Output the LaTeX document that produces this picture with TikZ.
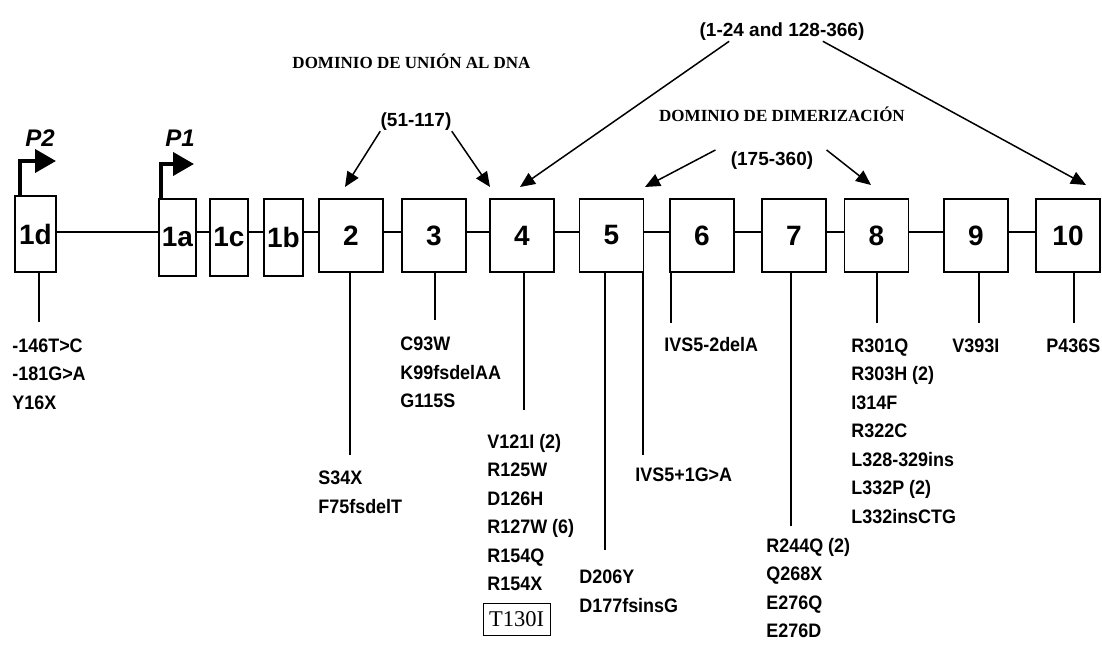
\documentclass[tikz,border=0pt]{standalone}
\usepackage{fontspec}
\setmainfont{Liberation Serif}
\setsansfont{Liberation Sans}
\newfontfamily\mutfont{Liberation Sans}[FakeStretch=0.92]
\usetikzlibrary{arrows.meta,positioning}

\tikzset{
  exon/.style={draw, line width=0.9pt, minimum width=32pt, minimum height=36.5pt, inner sep=0pt,
    font=\sffamily\bfseries\fontsize{14}{14}\selectfont},
  exonone/.style={exon, minimum width=19pt, minimum height=38.5pt},
  muts/.style={anchor=north west, inner sep=0pt, align=left,
    font=\mutfont\bfseries\fontsize{9.75}{14.25}\selectfont},
  exlink/.style={line width=0.7pt},
  mutstem/.style={line width=0.7pt},
  rangelbl/.style={inner sep=0pt, font=\sffamily\bfseries\fontsize{9.5}{10}\selectfont},
  domtitle/.style={inner sep=0pt, font=\rmfamily\bfseries\fontsize{8.5}{9}\selectfont},
  plabel/.style={inner sep=0pt, font=\sffamily\bfseries\itshape\fontsize{12}{12}\selectfont},
  domarrow/.style={-{Triangle[length=7.5pt,width=6.5pt]}, line width=0.75pt},
  promarrow/.style={-{Triangle[length=10.5pt,width=11.5pt]}, line width=2pt},
}

\begin{document}
\begin{tikzpicture}[x=0.5pt, y=-0.5pt]
    \useasboundingbox (0,0) rectangle (1102,646);

    % Exon 1 variants
    \node[exonone, minimum width=20.5pt, minimum height=38pt] (e1d) at (35.5,234) {1d};
    \node[exonone, minimum width=18.5pt] (e1a) at (177.5,237.5) {1a};
    \node[exonone] (e1c) at (229,237.5) {1c};
    \node[exonone, minimum width=19.5pt] (e1b) at (283.5,237.5) {1b};

    % Exons 2 to 10
    \foreach \n/\x in {2/351, 3/434, 4/522, 5/611.5, 6/702, 7/794, 8/876.5, 9/976, 10/1068}
        \node[exon] (e\n) at (\x,235.5) {\n};

    % Backbone between exons
    \coordinate (bb) at (0,232);
    \foreach \a/\b in {1d/1a, 1a/1c, 1c/1b, 1b/2, 2/3, 3/4, 4/5, 5/6, 6/7, 7/8, 8/9, 9/10}
        \draw[exlink] (e\a.east |- bb) -- (e\b.west |- bb);

    % Promoters
    \coordinate (p2) at (56,161);
    \coordinate (p1) at (194,164);
    \draw[promarrow] (e1d.north -| 20,0) |- (p2);
    \draw[promarrow] (e1a.north -| 161,0) |- (p1);
    \node[plabel] (lp2) at (40,138) {P2};
    \node[plabel] (lp1) at (180,138) {P1};

    % Domains
    \node[domtitle] (dna) at (411.5,61) {DOMINIO DE UNIÓN AL DNA};
    \node[domtitle] (dim) at (782,114) {DOMINIO DE DIMERIZACIÓN};
    \node[rangelbl] (r1) at (416,122) {(51-117)};
    \node[rangelbl] (r2) at (782,32) {(1-24 and 128-366)};
    \node[rangelbl] (r3) at (772,161) {(175-360)};

    \coordinate (t2) at (345,187);
    \coordinate (t4a) at (490,187);
    \coordinate (t4b) at (520,187);
    \coordinate (t5) at (645,187);
    \coordinate (t8) at (871,185);
    \coordinate (t10) at (1086,185);
    \draw[domarrow] (r1.south west) -- (t2);
    \draw[domarrow] (r1.south east) -- (t4a);
    \draw[domarrow] ([xshift=15pt]r2.south west) -- (t4b);
    \draw[domarrow] ([xshift=-21pt]r2.south east) -- (t10);
    \draw[domarrow] ([xshift=-7.5pt,yshift=5.5pt]r3.west) -- (t5);
    \draw[domarrow] ([xshift=6.5pt,yshift=5.5pt]r3.east) -- (t8);

    % Mutation stems
    \foreach \e/\x/\y in {1d/39/322, 2/350/455, 3/435/320, 4/524/410, 5/605/550,
                          6/671/323, 7/791/526, 8/877/323, 9/979/323, 10/1074/323} {
        \coordinate (s\e) at (\x,\y);
        \draw[mutstem] (e\e.south -| s\e) -- (s\e);
    }
    \coordinate (s5r) at (643,455);
    \draw[mutstem] (e5.south -| s5r) -- (s5r);

    % Mutations
    \node[muts] (m1d) at (12,338) {-146T>C\\-181G>A\\Y16X};
    \node[muts] (m2) at (318,470.5) {S34X\\F75fsdelT};
    \node[muts] (m3) at (400,336.5) {C93W\\K99fsdelAA\\G115S};
    \node[muts] (m4) at (487,433.5) {V121I (2)\\R125W\\D126H\\R127W (6)\\R154Q\\R154X};
    \node[draw, line width=0.5pt, inner sep=0pt, minimum width=33.5pt, minimum height=16pt,
          font=\rmfamily\fontsize{11.25}{12}\selectfont] (t130) at (516.5,619) {T130I};
    \node[muts] (m5) at (579,569.5) {D206Y\\D177fsinsG};
    \node[muts] (m5r) at (635,467.5) {IVS5+1G>A};
    \node[muts] (m6) at (664,336.5) {IVS5-2delA};
    \node[muts] (m7) at (766,537.5) {R244Q (2)\\Q268X\\E276Q\\E276D};
    \node[muts] (m8) at (851,338) {R301Q\\R303H (2)\\I314F\\R322C\\L328-329ins\\L332P (2)\\L332insCTG};
    \node[muts] (m9) at (952,338) {V393I};
    \node[muts] (m10) at (1046,338) {P436S};
\end{tikzpicture}
\end{document}
